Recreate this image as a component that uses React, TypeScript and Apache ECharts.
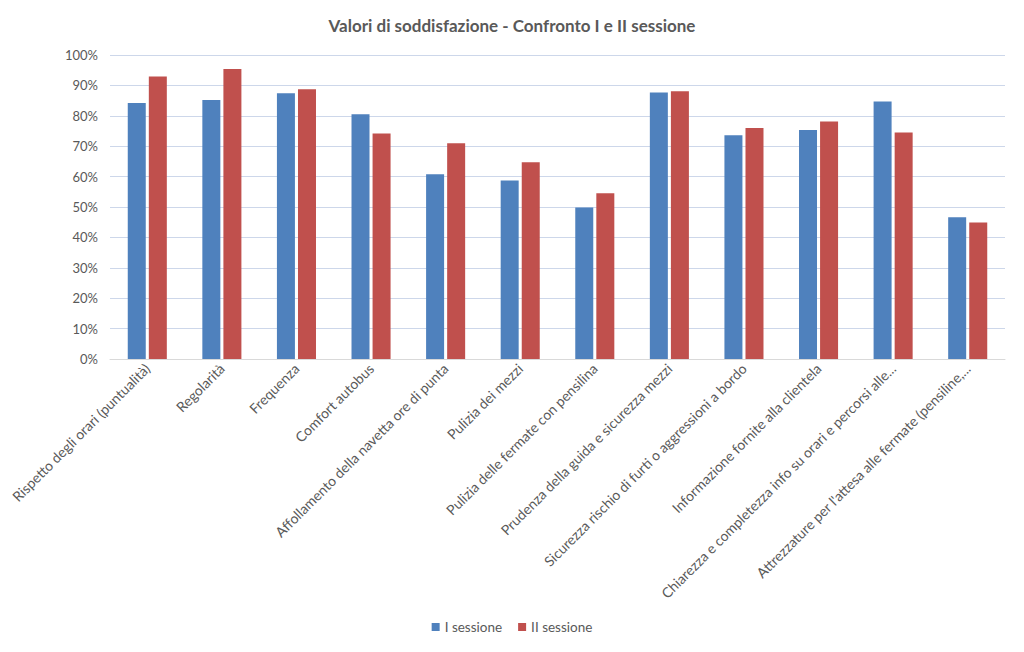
import React, { useEffect, useRef } from "react";
import * as echarts from "echarts";

const categories = [
  "Rispetto degli orari (puntualità)",
  "Regolarità",
  "Frequenza",
  "Comfort autobus",
  "Affollamento della navetta ore di punta",
  "Pulizia dei mezzi",
  "Pulizia delle fermate con pensilina",
  "Prudenza della guida e sicurezza mezzi",
  "Sicurezza rischio di furti o aggressioni a bordo",
  "Informazione fornite alla clientela",
  "Chiarezza e completezza info su orari e percorsi alle...",
  "Attrezzature per l'attesa alle fermate (pensiline,...",
];
const sessione1 = [0.842, 0.852, 0.874, 0.805, 0.608, 0.587, 0.498, 0.877, 0.736, 0.753, 0.847, 0.466];
const sessione2 = [0.929, 0.954, 0.887, 0.742, 0.71, 0.647, 0.545, 0.881, 0.76, 0.781, 0.745, 0.449];
const seriesNames = ["I sessione", "II sessione"];
const titleText = "Valori di soddisfazione - Confronto I e II sessione";

const FONT = "Lato";

export default function App() {
  const ref = useRef<HTMLDivElement>(null);
  useEffect(() => {
    if (!ref.current) return;
    const chart = echarts.init(ref.current, undefined, { renderer: "svg" });
    chart.setOption({
      animation: false,
      backgroundColor: "#ffffff",
      textStyle: { fontFamily: FONT },
      title: {
        text: titleText,
        left: "center",
        top: 12,
        textStyle: { fontFamily: FONT, fontSize: 17, fontWeight: "bold", color: "#595959" },
      },
      legend: {
        data: seriesNames,
        bottom: 13,
        left: "center",
        icon: "rect",
        itemWidth: 8,
        itemHeight: 8,
        itemGap: 16,
        textStyle: { fontFamily: FONT, fontSize: 13.5, color: "#595959" },
      },
      grid: { left: 110, right: 19, top: 55, bottom: 293, containLabel: false },
      xAxis: {
        type: "category",
        data: categories,
        axisTick: { show: false },
        axisLine: { lineStyle: { color: "#d9d9d9" } },
        axisLabel: {
          rotate: 45,
          interval: 0,
          fontFamily: FONT,
          fontSize: 14,
          color: "#595959",
          margin: 7,
        },
      },
      yAxis: {
        type: "value",
        min: 0,
        max: 1,
        interval: 0.1,
        axisLine: { show: false },
        axisTick: { show: false },
        splitLine: { lineStyle: { color: "#cdd7ea", width: 1 } },
        axisLabel: {
          fontFamily: FONT,
          fontSize: 13,
          color: "#595959",
          margin: 12,
          formatter: (v: number) => Math.round(v * 100) + "%",
        },
      },
      series: [
        {
          name: seriesNames[0],
          type: "bar",
          data: sessione1,
          barWidth: 18,
          barGap: "17%",
          itemStyle: { color: "#4f81bd" },
        },
        {
          name: seriesNames[1],
          type: "bar",
          data: sessione2,
          barWidth: 18,
          barGap: "17%",
          itemStyle: { color: "#c0504d" },
        },
      ],
    });
    return () => chart.dispose();
  }, []);
  return <div ref={ref} style={{ width: 1024, height: 652, position: "absolute", left: 0, top: 0 }} />;
}
